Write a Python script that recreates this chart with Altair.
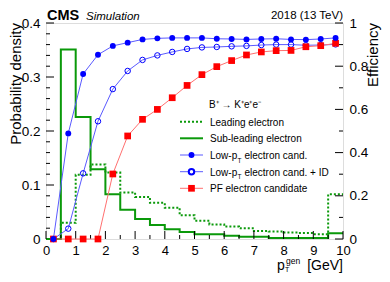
import altair as alt
import pandas as pd

# ---------------- data ----------------
bin_edges = [0.0, 0.5, 1.0, 1.5, 2.0, 2.5, 3.0, 3.5, 4.0, 4.5, 5.0,
             5.5, 6.0, 6.5, 7.0, 7.5, 8.0, 8.5, 9.0, 9.5, 10.0]
bin_centers = [0.25, 0.75, 1.25, 1.75, 2.25, 2.75, 3.25, 3.75, 4.25, 4.75,
               5.25, 5.75, 6.25, 6.75, 7.25, 7.75, 8.25, 8.75, 9.25, 9.75]

leading = [0.0, 0.030, 0.119, 0.138, 0.123, 0.086, 0.078, 0.067, 0.058, 0.044,
           0.034, 0.027, 0.023, 0.020, 0.015, 0.014, 0.012, 0.011, 0.009, 0.083]
subleading = [0.0, 0.351, 0.226, 0.129, 0.083, 0.054, 0.037, 0.026, 0.018, 0.013,
              0.0087, 0.0087, 0.006, 0.0043, 0.0043, 0.002, 0.002, 0.002, 0.002, 0.0105]

eff_lowpt = [0.0, 0.489, 0.764, 0.853, 0.894, 0.909, 0.924, 0.929, 0.931, 0.931,
             0.931, 0.927, 0.926, 0.924, 0.926, 0.927, 0.924, 0.923, 0.926, 0.931]
eff_lowpt_id = [0.0, 0.048, 0.304, 0.545, 0.694, 0.778, 0.829, 0.850, 0.866, 0.880,
                0.887, 0.889, 0.892, 0.894, 0.898, 0.900, 0.900, 0.897, 0.898, 0.901]
eff_pf = [0.0, 0.0, 0.0, 0.0, 0.301, 0.477, 0.554, 0.600, 0.654, 0.711,
          0.761, 0.798, 0.826, 0.852, 0.866, 0.872, 0.873, 0.890, 0.895, 0.906]

x_major = [0, 1, 2, 3, 4, 5, 6, 7, 8, 9, 10]
x_minor = [0.5, 1.5, 2.5, 3.5, 4.5, 5.5, 6.5, 7.5, 8.5, 9.5]
yl_major = [0.0, 0.1, 0.2, 0.3, 0.4]
yl_minor = [0.02, 0.04, 0.06, 0.08, 0.12, 0.14, 0.16, 0.18, 0.22, 0.24, 0.26, 0.28,
            0.32, 0.34, 0.36, 0.38]
yr_major = [0.0, 0.2, 0.4, 0.6, 0.8, 1.0]
yr_minor = [0.1, 0.3, 0.5, 0.7, 0.9]

legend_header = "B⁺ → K⁺e⁺e⁻"
legend_labels = ["Leading electron", "Sub-leading electron", "Low-p", "Low-p", "PF electron candidate"]

# ---------------- styling ----------------
W, H = 297, 216
FONT = "Liberation Sans"
GREEN = "#0a990a"
BLUE = "#0000ff"
BLUE_LINE = "#5a5aff"
RED = "#ff0000"
RED_LINE = "#ff7070"
LFS = 10  # legend font size

xs = alt.Scale(domain=[0, 10], nice=False, zero=False)
yls = alt.Scale(domain=[0, 0.4], nice=False, zero=False)
yrs = alt.Scale(domain=[0, 1], nice=False, zero=False)

x_axis = alt.Axis(values=x_major, ticks=False, domain=False, grid=False, title=None,
                  labelFontSize=13, labelFont=FONT, labelColor="black", labelPadding=5,
                  labelFlush=False, labelOverlap=False, format="d")
yl_axis = alt.Axis(values=yl_major, ticks=False, domain=False, grid=False, title=None,
                   labelFontSize=13.5, labelFont=FONT, labelColor="black", labelPadding=6,
                   labelOverlap=False, labelExpr="format(datum.value, '.1~f')", orient="left")
yr_axis = alt.Axis(values=yr_major, ticks=False, domain=False, grid=False, title=None,
                   labelFontSize=13.5, labelFont=FONT, labelColor="black", labelPadding=6,
                   labelOverlap=False, labelExpr="format(datum.value, '.1~f')", orient="right")


def X(field):
    return alt.X(field, type="quantitative", scale=xs, axis=x_axis)


def YL(field):
    return alt.Y(field, type="quantitative", scale=yls, axis=yl_axis)


def YR(field):
    return alt.Y(field, type="quantitative", scale=yrs, axis=yr_axis)


def hist_df(vals):
    return pd.DataFrame({"x": bin_edges, "y": vals + [vals[-1]]})


one = pd.DataFrame({"t": [""]})


def txt(s, x, y, size=11, align="left", baseline="alphabetic", angle=0,
        weight="normal", style="normal"):
    return alt.Chart(pd.DataFrame({"t": [s]})).mark_text(
        align=align, baseline=baseline, fontSize=size, font=FONT, angle=angle,
        fontWeight=weight, fontStyle=style, color="black"
    ).encode(x=alt.value(x), y=alt.value(y), text="t:N")


# ---------------- left (probability density) ----------------
h_lead = alt.Chart(hist_df(leading)).mark_line(
    interpolate="step-after", color=GREEN, strokeWidth=2, strokeDash=[2, 2]
).encode(x=X("x"), y=YL("y"))
h_sub = alt.Chart(hist_df(subleading)).mark_line(
    interpolate="step-after", color=GREEN, strokeWidth=2
).encode(x=X("x"), y=YL("y"))

yl_tmaj = alt.Chart(pd.DataFrame({"v": yl_major})).mark_rule(color="black", strokeWidth=1).encode(
    y=YL("v"), x=alt.value(0), x2=alt.value(8))
yl_tmin = alt.Chart(pd.DataFrame({"v": yl_minor})).mark_rule(color="black", strokeWidth=1).encode(
    y=YL("v"), x=alt.value(0), x2=alt.value(4))

left = alt.layer(yl_tmaj, yl_tmin, h_lead, h_sub)

# ---------------- right (efficiency) ----------------
eff_df = pd.DataFrame({"x": bin_centers, "a": eff_lowpt, "b": eff_lowpt_id, "c": eff_pf})

l_id = alt.Chart(eff_df).mark_line(color=BLUE_LINE, strokeWidth=1).encode(x=X("x"), y=YR("b"))
p_id = alt.Chart(eff_df).mark_point(shape="circle", filled=False, color=BLUE, size=30,
                                    strokeWidth=1, opacity=1).encode(x=X("x"), y=YR("b"))
l_pf = alt.Chart(eff_df).mark_line(color=RED_LINE, strokeWidth=1).encode(x=X("x"), y=YR("c"))
p_pf = alt.Chart(eff_df).mark_point(shape="square", filled=True, color=RED, size=45,
                                    opacity=1).encode(x=X("x"), y=YR("c"))
l_lp = alt.Chart(eff_df).mark_line(color=BLUE_LINE, strokeWidth=1).encode(x=X("x"), y=YR("a"))
p_lp = alt.Chart(eff_df).mark_point(shape="circle", filled=True, color=BLUE, size=35,
                                    opacity=1).encode(x=X("x"), y=YR("a"))

yr_tmaj = alt.Chart(pd.DataFrame({"v": yr_major})).mark_rule(color="black", strokeWidth=1).encode(
    y=YR("v"), x=alt.value(W), x2=alt.value(W - 8))
yr_tmin = alt.Chart(pd.DataFrame({"v": yr_minor})).mark_rule(color="black", strokeWidth=1).encode(
    y=YR("v"), x=alt.value(W), x2=alt.value(W - 4))

x_tmaj = alt.Chart(pd.DataFrame({"v": x_major})).mark_rule(color="black", strokeWidth=1).encode(
    x=X("v"), y=alt.value(H), y2=alt.value(H - 8))
x_tmin = alt.Chart(pd.DataFrame({"v": x_minor})).mark_rule(color="black", strokeWidth=1).encode(
    x=X("v"), y=alt.value(H), y2=alt.value(H - 4))

# legend
LX1, LX2, LXM, LXT = 134, 157, 145.5, 164
ly = [98.7, 115.3, 132.0, 148.7, 165.3]
leg = [
    txt(legend_header, 163, 85, size=LFS),
    alt.Chart(one).mark_rule(color=GREEN, strokeWidth=2, strokeDash=[2, 2]).encode(
        x=alt.value(LX1), x2=alt.value(LX2), y=alt.value(ly[0])),
    alt.Chart(one).mark_rule(color=GREEN, strokeWidth=2).encode(
        x=alt.value(LX1), x2=alt.value(LX2), y=alt.value(ly[1])),
    alt.Chart(one).mark_rule(color=BLUE_LINE, strokeWidth=1).encode(
        x=alt.value(LX1), x2=alt.value(LX2), y=alt.value(ly[2])),
    alt.Chart(one).mark_point(shape="circle", filled=True, color=BLUE, size=35, opacity=1).encode(
        x=alt.value(LXM), y=alt.value(ly[2])),
    alt.Chart(one).mark_rule(color=BLUE_LINE, strokeWidth=1).encode(
        x=alt.value(LX1), x2=alt.value(LX2), y=alt.value(ly[3])),
    alt.Chart(one).mark_point(shape="circle", filled=False, color=BLUE, size=30, opacity=1,
                              fill="white").encode(x=alt.value(LXM), y=alt.value(ly[3])),
    alt.Chart(one).mark_rule(color=RED_LINE, strokeWidth=1).encode(
        x=alt.value(LX1), x2=alt.value(LX2), y=alt.value(ly[4])),
    alt.Chart(one).mark_point(shape="square", filled=True, color=RED, size=45, opacity=1).encode(
        x=alt.value(LXM), y=alt.value(ly[4])),
    txt(legend_labels[0], LXT, ly[0] + 4, size=LFS),
    txt(legend_labels[1], LXT, ly[1] + 4, size=LFS),
    txt(legend_labels[2], LXT, ly[2] + 4, size=LFS),
    txt("T", LXT + 27.5, ly[2] + 7.5, size=6.5),
    txt("electron cand.", LXT + 34.5, ly[2] + 4, size=LFS),
    txt(legend_labels[3], LXT, ly[3] + 4, size=LFS),
    txt("T", LXT + 27.5, ly[3] + 7.5, size=6.5),
    txt("electron cand. + ID", LXT + 34.5, ly[3] + 4, size=LFS),
    txt(legend_labels[4], LXT, ly[4] + 4, size=LFS),
]

# titles / labels
titles = [
    txt("CMS", 1, -3, size=14.5, weight="bold"),
    txt("Simulation", 40, -3, size=11.5, style="italic"),
    txt("2018 (13 TeV)", W, -4, size=11.5, align="right"),
    txt("Probability density", -25, 0, size=15, align="right", angle=270),
    txt("Efficiency", W + 35, 0, size=15, align="right", angle=270),
    txt("p", 231, 247, size=14),
    txt("gen", 240, 241, size=8.5),
    txt("T", 239, 249, size=7),
    txt("[GeV]", W, 247, size=14, align="right"),
]

right = alt.layer(yr_tmaj, yr_tmin, x_tmaj, x_tmin, l_id, p_id, l_pf, p_pf, l_lp, p_lp,
                  *leg, *titles)

chart = alt.layer(left, right).resolve_scale(y="independent").properties(
    width=W, height=H, autosize="none",
    padding={"left": 38, "top": 15, "right": 39, "bottom": 35},
).configure_view(stroke="black", strokeWidth=1.5).configure(background="white")

chart.save("out.html", embed_options={"renderer": "svg", "actions": False})
